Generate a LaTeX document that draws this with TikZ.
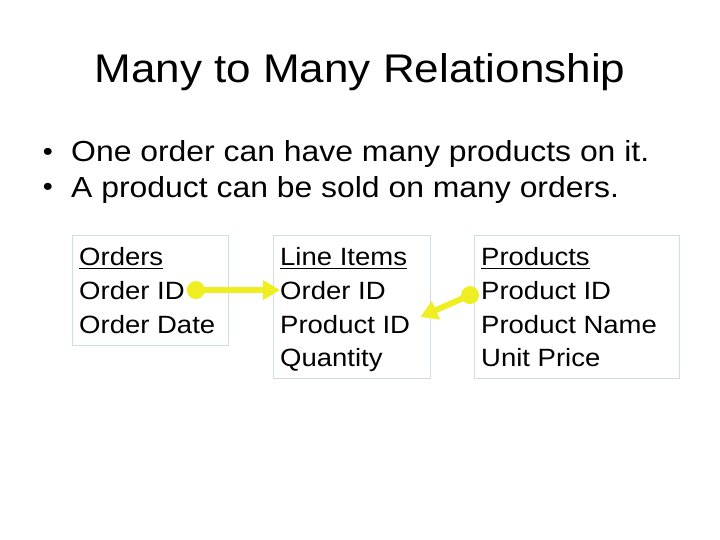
\documentclass[tikz,border=0pt]{standalone}
\usepackage{fontspec}
\setmainfont{Liberation Sans}[FakeStretch=1.1]
\usetikzlibrary{arrows.meta}

\definecolor{keyyellow}{RGB}{238,238,34}
\definecolor{boxline}{RGB}{204,222,226}

% underlined table name
\newcommand{\entityname}[1]{\setbox0\hbox{#1}\rlap{\rule[-4.5pt]{\wd0}{1.6pt}}\box0}

\begin{document}
\begin{tikzpicture}[x=1pt,y=-1pt]
  \tikzstyle{table} = [draw=boxline, line width=0.8pt, anchor=north west, inner sep=0pt]
  \tikzstyle{field} = [anchor=base west, inner sep=0pt, font=\fontsize{25}{34}\selectfont]
  \tikzstyle{dotmark} = [inner sep=0pt, font=\fontsize{26}{26}\selectfont]
  \tikzstyle{point} = [anchor=base west, inner sep=0pt, font=\fontsize{29}{35}\selectfont]
  \tikzstyle{keydot} = [circle, fill=keyyellow, minimum size=18pt, inner sep=0pt]
  \tikzset{link/.style = {draw=keyyellow, line width=6pt, -{Triangle[length=17pt,width=19pt]}}}

  \useasboundingbox (0,0) rectangle (720,540);

  \node[anchor=base, inner sep=0pt, font=\fontsize{40}{48}\selectfont] (title) at (360,83) {Many to Many Relationship};

  % bullets
  \node[dotmark] (b1) at (48,154) {•};
  \node[point] (p1) at (71,162) {One order can have many products on it.};
  \node[dotmark] (b2) at (48,189) {•};
  \node[point] (p2) at (71,197) {A product can be sold on many orders.};

  % tables
  \node[table, minimum width=156pt, minimum height=110pt] (orders) at (72,235) {};
  \node[table, minimum width=157pt, minimum height=143pt] (items) at (273,235) {};
  \node[table, minimum width=205pt, minimum height=143pt] (products) at (474,235) {};

  \node[field] (ohead) at (79,265) {\entityname{Orders}};
  \node[field] (oid) at (79,299) {Order ID};
  \node[field] (odate) at (79,333) {Order Date};

  \node[field] (lhead) at (280,265) {\entityname{Line Items}};
  \node[field] (loid) at (280,299) {Order ID};
  \node[field] (lpid) at (280,333) {Product ID};
  \node[field] (lqty) at (280,366) {Quantity};

  \node[field] (phead) at (481,265) {\entityname{Products}};
  \node[field] (ppid) at (481,299) {Product ID};
  \node[field] (pname) at (481,333) {Product Name};
  \node[field] (price) at (481,366) {Unit Price};

  % keys
  \node[keydot] (okey) at ([xshift=11pt]oid.east) {};
  \node[keydot] (pkey) at ([xshift=-11pt,yshift=-5pt]ppid.west) {};
  \coordinate (ptip) at ([xshift=10pt,yshift=7pt]lpid.east);

  \draw[link] (okey.center) -- (loid.west);
  \draw[link] (pkey.center) -- (ptip);
\end{tikzpicture}
\end{document}
